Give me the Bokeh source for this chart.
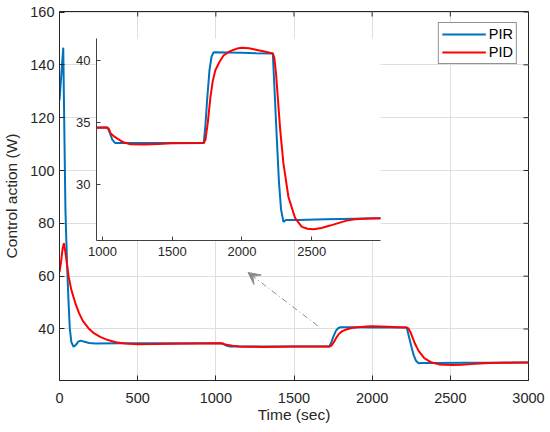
import math
from bokeh.plotting import figure
from bokeh.models import (Range1d, Legend, LegendItem, Arrow, VeeHead,
                          GridBox, Column, FixedTicker)
from bokeh.embed import file_html
from bokeh.resources import INLINE

# ---------------- data ----------------
t_pir = [0, 12, 24, 31, 38, 48, 58, 66, 76, 90,
         105, 120, 135, 160, 190, 230, 400, 700, 1031, 1045,
         1059, 1071, 1090, 1300, 1500, 1726, 1738, 1750, 1767, 1782,
         1797, 1900, 2000, 2100, 2221, 2235, 2250, 2265, 2280, 2297,
         2315, 2400, 2600, 2800, 3000]
y_pir = [126.5, 136.5, 146.5, 115, 85, 65, 50, 40, 35, 33.3,
         34, 35.2, 35.6, 35.2, 34.7, 34.55, 34.6, 34.6, 34.6, 34.4,
         33.95, 33.6, 33.35, 33.35, 33.35, 33.35, 34.8, 36.8, 39.2, 40.3,
         40.65, 40.62, 40.6, 40.57, 40.55, 37.2, 33.6, 30.2, 28.0, 27.0,
         27.15, 27.15, 27.2, 27.25, 27.3]

t_pid = [0, 10, 20, 28, 38, 48, 58, 75, 100, 125,
         150, 185, 220, 260, 310, 360, 420, 500, 600, 750,
         900, 1031, 1045, 1059, 1080, 1107, 1150, 1200, 1300, 1400,
         1500, 1726, 1738, 1755, 1774, 1790, 1809, 1840, 1869, 1910,
         1964, 2000, 2050, 2100, 2160, 2221, 2232, 2245, 2258, 2274,
         2297, 2333, 2381, 2429, 2470, 2512, 2570, 2631, 2690, 2750,
         2809, 2900, 3000]
y_pid = [61.5, 65.5, 70.5, 72.5, 69, 64.5, 60, 55, 50, 46,
         43, 40.3, 38.4, 37, 35.8, 35, 34.5, 34.25, 34.3, 34.45,
         34.55, 34.6, 34.5, 34.1, 33.9, 33.7, 33.4, 33.25, 33.22, 33.27,
         33.33, 33.35, 33.6, 35.0, 37.05, 38.3, 39.2, 39.9, 40.4, 40.7,
         40.94, 41.0, 40.97, 40.85, 40.7, 40.55, 40.2, 38.8, 36.8, 34.4,
         31.7, 29.0, 27.3, 26.6, 26.45, 26.4, 26.5, 26.7, 26.9, 27.1,
         27.2, 27.27, 27.3]

series_names = ["PIR", "PID"]
series_colors = ["#0072BD", "#FF0000"]

x_ticks = [0, 500, 1000, 1500, 2000, 2500, 3000]
y_ticks = [40, 60, 80, 100, 120, 140, 160]
inset_x_ticks = [1000, 1500, 2000, 2500]
inset_y_ticks = [30, 35, 40]

x_lim = (0, 3000)
y_lim = (20.5, 160.2)
inset_x_lim = (957, 2993)
inset_y_lim = (25.5, 41.75)

x_title = "Time (sec)"
y_title = "Control action (W)"

arrow_from = (1652, 41.2)
arrow_to = (1206, 61.4)

FONT = "Liberation Sans"
TXT = "#262626"

# ---------------- main figure ----------------
p = figure(width=546, height=428,
           x_range=Range1d(*x_lim), y_range=Range1d(*y_lim),
           output_backend="svg", toolbar_location=None,
           min_border_left=57, min_border_right=18,
           min_border_top=11, min_border_bottom=48,
           background_fill_color="white", border_fill_color="white")
p.outline_line_color = TXT
p.outline_line_width = 1

r1 = p.line(t_pir, y_pir, line_color=series_colors[0], line_width=2)
r2 = p.line(t_pid, y_pid, line_color=series_colors[1], line_width=2)

for ax in (p.xaxis[0], p.yaxis[0]):
    ax.major_tick_in = 5
    ax.major_tick_out = 0
    ax.minor_tick_line_color = None
    ax.axis_line_color = TXT
    ax.major_tick_line_color = TXT
    ax.major_label_text_font = FONT
    ax.major_label_text_font_size = "14.5px"
    ax.major_label_text_color = TXT
    ax.axis_label_text_font = FONT
    ax.axis_label_text_font_size = "15.5px"
    ax.axis_label_text_font_style = "normal"
    ax.axis_label_text_color = TXT

p.xaxis[0].ticker = FixedTicker(ticks=x_ticks)
p.yaxis[0].ticker = FixedTicker(ticks=y_ticks)
p.xaxis[0].axis_label = x_title
p.yaxis[0].axis_label = y_title
p.xaxis[0].major_label_standoff = 12
p.yaxis[0].major_label_standoff = 5
p.xaxis[0].axis_label_standoff = 0
p.yaxis[0].axis_label_standoff = 7

# box ticks on the top and right edges (MATLAB "box on")
p.ray(x=x_ticks, y=[y_lim[1]] * len(x_ticks), length=5, length_units="screen",
      angle=-math.pi / 2, line_color=TXT, line_width=1)
p.ray(x=[x_lim[1]] * len(y_ticks), y=y_ticks, length=5, length_units="screen",
      angle=math.pi, line_color=TXT, line_width=1)

p.xgrid.ticker = FixedTicker(ticks=x_ticks)
p.ygrid.ticker = FixedTicker(ticks=y_ticks)
p.xgrid.grid_line_color = "#dfdfdf"
p.ygrid.grid_line_color = "#dfdfdf"

legend = Legend(items=[LegendItem(label=series_names[0], renderers=[r1]),
                       LegendItem(label=series_names[1], renderers=[r2])],
                location="top_right", margin=11, padding=3, spacing=2,
                glyph_width=44, glyph_height=16, label_height=16, label_standoff=3,
                label_text_font=FONT, label_text_font_size="14.5px", label_text_color="black",
                border_line_color=TXT, border_line_width=1,
                background_fill_color="white", background_fill_alpha=1)
p.add_layout(legend)

p.add_layout(Arrow(end=VeeHead(size=12, fill_color="#8c8c8c", line_color="#8c8c8c"),
                   x_start=arrow_from[0], y_start=arrow_from[1],
                   x_end=arrow_to[0], y_end=arrow_to[1],
                   line_color="#8c8c8c", line_width=1, line_dash="6 3 1 3"))

# ---------------- inset figure (overlaid, transparent border) ----------------
ins = figure(width=385, height=265,
             x_range=Range1d(*inset_x_lim), y_range=Range1d(*inset_y_lim),
             output_backend="svg", toolbar_location=None,
             min_border_left=96, min_border_right=5,
             min_border_top=38, min_border_bottom=25,
             background_fill_color="white", border_fill_alpha=0)
ins.outline_line_color = None
ins.grid.visible = False
ins.line(t_pir, y_pir, line_color=series_colors[0], line_width=2)
ins.line(t_pid, y_pid, line_color=series_colors[1], line_width=2)
for ax in (ins.xaxis[0], ins.yaxis[0]):
    ax.major_tick_in = 4
    ax.major_tick_out = 0
    ax.minor_tick_line_color = None
    ax.axis_line_color = "#404040"
    ax.major_tick_line_color = "#404040"
    ax.major_label_text_font = FONT
    ax.major_label_text_font_size = "13px"
    ax.major_label_text_color = TXT
    ax.major_label_standoff = 6
ins.xaxis[0].ticker = FixedTicker(ticks=inset_x_ticks)
ins.yaxis[0].ticker = FixedTicker(ticks=inset_y_ticks)

grid = GridBox(children=[(Column(children=[p]), 0, 0), (Column(children=[ins]), 0, 0)])

open("out.html", "w").write(file_html(grid, INLINE))
